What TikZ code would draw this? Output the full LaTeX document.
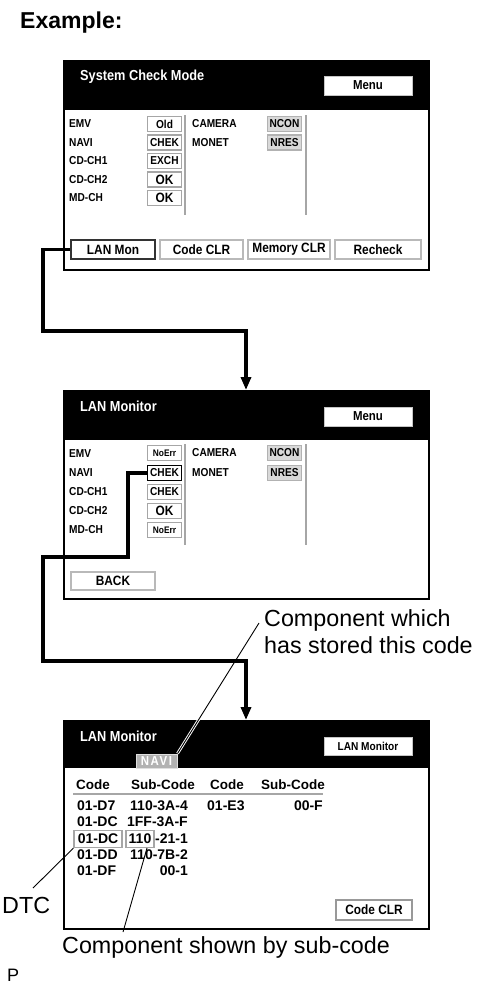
\documentclass[tikz,border=0pt]{standalone}
\usepackage{fontspec}
\setmainfont{Liberation Sans}
\newfontfamily\cond[FakeStretch=0.88]{Liberation Sans}
\usetikzlibrary{arrows.meta,calc}
\begin{document}
\begin{tikzpicture}[x=1pt,y=-1pt,
  scrframe/.style={draw=black,line width=2pt,anchor=north west,inner sep=0pt,minimum width=365pt},
  scrtitle/.style={anchor=base west,inner sep=0pt,text=white,font=\cond\bfseries\fontsize{14.5}{16}\selectfont},
  menubox/.style={draw=gray!45,fill=white,line width=1pt,minimum width=88pt,minimum height=19pt,inner sep=0pt,font=\cond\bfseries\fontsize{13}{15}\selectfont},
  lbl/.style={anchor=west,inner sep=0pt,font=\cond\bfseries\fontsize{11.5}{13}\selectfont},
  stat/.style={draw=gray!70,fill=white,line width=1.2pt,minimum width=34pt,minimum height=15pt,inner sep=0pt,font=\cond\bfseries\fontsize{11.5}{13}\selectfont},
  statsel/.style={stat,draw=black,line width=1.8pt},
  statg/.style={stat,fill=gray!30,draw=gray!60},
  sepline/.style={draw=gray!70,line width=2.5pt},
  btn/.style={draw=gray!55,fill=white,line width=1.3pt,minimum height=19pt,inner sep=0pt,font=\cond\bfseries\fontsize{13.5}{15}\selectfont},
  btnsel/.style={btn,draw=black!80,line width=1.8pt},
  flow/.style={draw=black,line width=3.3pt,line join=miter},
  flowarrow/.style={flow,-{Triangle[width=10pt,length=13pt]}},
  th/.style={inner sep=0pt,font=\bfseries\fontsize{13.5}{15}\selectfont},
  td/.style={inner sep=0pt,font=\bfseries\fontsize{14}{16}\selectfont},
  hibox/.style={draw=gray!70,line width=1.2pt,minimum height=17pt,inner sep=0pt},
  leader/.style={draw=black,line width=0.9pt},
  callout/.style={inner sep=0pt,font=\fontsize{23.3}{27}\selectfont}
]
\useasboundingbox (0,0) rectangle (482,986);

% heading
\node[anchor=base west,inner sep=0pt,font=\bfseries\fontsize{23}{27}\selectfont] (example) at (20,28) {Example:};

% ================= Screen 1 =================
\fill[black] (63,60) rectangle (428,110);
\node[scrframe,minimum height=209pt] (scr1) at (63,60) {};
\node[scrtitle] (t1) at (80,80.5) {System Check Mode};
\node[menubox] (m1) at (368,85.5) {Menu};
\node[lbl] (s1l1) at (69,124) {EMV};
\node[lbl] (s1l2) at (69,142.5) {NAVI};
\node[lbl] (s1l3) at (69,161) {CD-CH1};
\node[lbl] (s1l4) at (69,179.5) {CD-CH2};
\node[lbl] (s1l5) at (69,198) {MD-CH};
\node[stat] (s1b1) at (164.5,124) {Old};
\node[stat] (s1b2) at (164.5,142.5) {CHEK};
\node[stat] (s1b3) at (164.5,161) {EXCH};
\node[stat,font=\cond\bfseries\fontsize{13.5}{15}\selectfont] (s1b4) at (164.5,179.5) {OK};
\node[stat,font=\cond\bfseries\fontsize{13.5}{15}\selectfont] (s1b5) at (164.5,198) {OK};
\draw[sepline] (185,115) -- (185,215);
\node[lbl] (s1c1) at (192,124) {CAMERA};
\node[lbl] (s1c2) at (192,142.5) {MONET};
\node[statg] (s1n1) at (284.5,124) {NCON};
\node[statg] (s1n2) at (284.5,142.5) {NRES};
\draw[sepline] (306,115) -- (306,215);
\node[btnsel,minimum width=84pt] (lanmon) at (113,249.5) {LAN Mon};
\node[btn,minimum width=83pt] (codeclr1) at (201.5,249.5) {Code CLR};
\node[btn,minimum width=82pt] (memclr) at (289,249.5) {Memory CLR};
\node[btn,minimum width=86pt] (recheck) at (378,249.5) {Recheck};

% ================= Screen 2 =================
\fill[black] (63,390) rectangle (428,440);
\node[scrframe,minimum height=208pt] (scr2) at (63,390) {};
\node[scrtitle] (t2) at (80,411) {LAN Monitor};
\node[menubox] (m2) at (368,416.5) {Menu};
\node[lbl] (s2l1) at (69,454) {EMV};
\node[lbl] (s2l2) at (69,473) {NAVI};
\node[lbl] (s2l3) at (69,492) {CD-CH1};
\node[lbl] (s2l4) at (69,511) {CD-CH2};
\node[lbl] (s2l5) at (69,530) {MD-CH};
\node[stat,font=\cond\bfseries\fontsize{9.5}{11}\selectfont] (s2b1) at (164.5,453) {NoErr};
\node[statsel] (s2b2) at (164.5,473) {CHEK};
\node[stat] (s2b3) at (164.5,492) {CHEK};
\node[stat,font=\cond\bfseries\fontsize{13.5}{15}\selectfont] (s2b4) at (164.5,511) {OK};
\node[stat,font=\cond\bfseries\fontsize{9.5}{11}\selectfont] (s2b5) at (164.5,530) {NoErr};
\draw[sepline] (185,444) -- (185,545);
\node[lbl] (s2c1) at (192,453) {CAMERA};
\node[lbl] (s2c2) at (192,473) {MONET};
\node[statg] (s2n1) at (284.5,453) {NCON};
\node[statg] (s2n2) at (284.5,473) {NRES};
\draw[sepline] (306,444) -- (306,545);
\node[btn,minimum width=84pt,minimum height=18pt] (back) at (113,581) {BACK};

% ================= Screen 3 =================
\fill[black] (63,720) rectangle (428,768);
\node[scrframe,minimum height=208pt] (scr3) at (63,720) {};
\node[scrtitle] (t3) at (80,741) {LAN Monitor};
\node[menubox,minimum height=18pt,font=\cond\bfseries\fontsize{11.5}{13}\selectfont] (m3) at (368,746) {LAN Monitor};
\node[fill=gray!60,draw=gray!25,line width=1pt,minimum width=41pt,minimum height=14pt,inner sep=0pt,text=white,
      font=\cond\bfseries\fontsize{13}{14}\selectfont\addfontfeature{LetterSpace=12}] (navi) at (156.5,761) {NAVI};

\node[th] (h1) at (93,785) {Code};
\node[th] (h2) at (163,785) {Sub-Code};
\node[th] (h3) at (227,785) {Code};
\node[th] (h4) at (293,785) {Sub-Code};
\draw[draw=gray!70,line width=2.5pt] (73,794) -- (323,794);

\node[td,anchor=west] (r1a) at (77,806) {01-D7};
\node[td,anchor=east] (r1b) at (188,806) {110-3A-4};
\node[td,anchor=west] (r1c) at (207,806) {01-E3};
\node[td,anchor=east] (r1d) at (323,806) {00-F};
\node[td,anchor=west] (r2a) at (77,822) {01-DC};
\node[td,anchor=east] (r2b) at (188,822) {1FF-3A-F};
\node[td,hibox,minimum width=48pt] (dtcbox) at (98,839) {01-DC};
\node[td,hibox,minimum width=28pt] (b110) at (140,839) {110};
\node[td,anchor=east] (r3c) at (188,839) {-21-1};
\node[td,anchor=west] (r4a) at (77,855) {01-DD};
\node[td,anchor=east] (r4b) at (188,855) {110-7B-2};
\node[td,anchor=west] (r5a) at (77,871) {01-DF};
\node[td,anchor=east] (r5b) at (188,871) {00-1};
\node[draw=gray!80,fill=white,line width=1.2pt,minimum width=76pt,minimum height=20pt,inner sep=0pt,
      font=\cond\bfseries\fontsize{13.5}{15}\selectfont] (codeclr3) at (374,910) {Code CLR};

% ================= callouts =================
\node[callout,anchor=north west,align=left] (lab1) at (264,609) {Component which\\has stored this code};
\node[callout,anchor=base west] (lab2) at (2,913) {DTC};
\node[callout,anchor=base west] (lab3) at (62,953) {Component shown by sub-code};
\node[anchor=base west,inner sep=0pt,font=\fontsize{18}{20}\selectfont] (pmark) at (7,981.5) {P};

\coordinate (p1) at (259,623);
\coordinate (p2) at (33,888);
\coordinate (p3) at (123,932);
\draw[white,line width=2.8pt] (p1) -- (navi.north east);
\draw[leader] (p1) -- (navi.north east);
\draw[leader] (p2) -- (dtcbox.south west);
\draw[leader] (p3) -- ($(b110.south)+(7,0)$);

% ================= flow connectors =================
\draw[flowarrow] (lanmon.west) -- (43,249.5) -- (43,331) -- (246,331) -- (246,390);
\draw[flowarrow] (s2b2.west) -- (128,473) -- (128,557) -- (43,557) -- (43,661) -- (246,661) -- (246,720);
\end{tikzpicture}
\end{document}
